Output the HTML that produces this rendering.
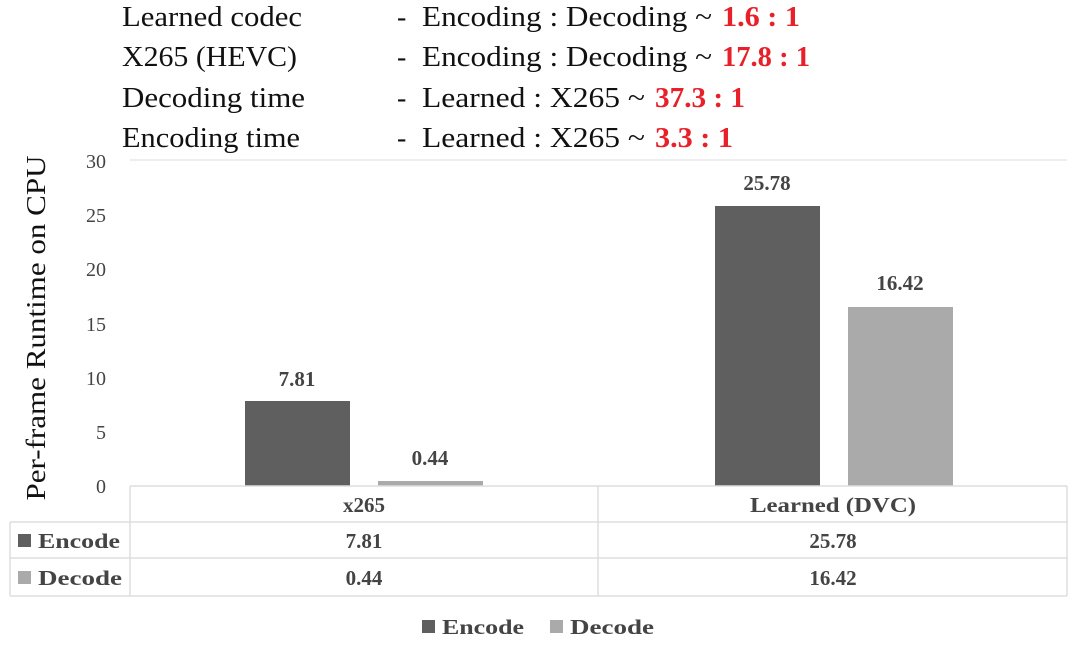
<!DOCTYPE html>
<html><head><style>body{margin:0;background:#fff}</style></head><body>
<svg width="1080" height="648" xmlns="http://www.w3.org/2000/svg" font-family="Liberation Serif, serif">
<g font-size="28" fill="#111" lengthAdjust="spacingAndGlyphs">
<text x="122" y="26" textLength="180" lengthAdjust="spacingAndGlyphs">Learned codec</text>
<text x="122" y="66" textLength="175" lengthAdjust="spacingAndGlyphs">X265 (HEVC)</text>
<text x="122" y="107" textLength="183" lengthAdjust="spacingAndGlyphs">Decoding time</text>
<text x="122" y="147" textLength="178" lengthAdjust="spacingAndGlyphs">Encoding time</text>
<text x="397" y="26">-</text><text x="397" y="66">-</text><text x="397" y="107">-</text><text x="397" y="147">-</text>
<text x="422" y="26" textLength="290" lengthAdjust="spacingAndGlyphs">Encoding : Decoding ~</text>
<text x="722" y="26" fill="#e8202a" font-weight="bold" textLength="78" lengthAdjust="spacingAndGlyphs">1.6 : 1</text>
<text x="422" y="66" textLength="290" lengthAdjust="spacingAndGlyphs">Encoding : Decoding ~</text>
<text x="722" y="66" fill="#e8202a" font-weight="bold" textLength="88" lengthAdjust="spacingAndGlyphs">17.8 : 1</text>
<text x="422" y="107" textLength="223" lengthAdjust="spacingAndGlyphs">Learned : X265 ~</text>
<text x="655" y="107" fill="#e8202a" font-weight="bold" textLength="90" lengthAdjust="spacingAndGlyphs">37.3 : 1</text>
<text x="422" y="147" textLength="223" lengthAdjust="spacingAndGlyphs">Learned : X265 ~</text>
<text x="655" y="147" fill="#e8202a" font-weight="bold" textLength="78" lengthAdjust="spacingAndGlyphs">3.3 : 1</text>
</g>
<line x1="130" y1="160" x2="1067" y2="160" stroke="#ddd"/>
<g font-size="20" fill="#444" text-anchor="end">
<text x="106" y="168">30</text><text x="106" y="222">25</text><text x="106" y="276">20</text><text x="106" y="331">15</text><text x="106" y="385">10</text><text x="106" y="439">5</text><text x="106" y="493">0</text>
</g>
<text transform="translate(45,328) rotate(-90)" text-anchor="middle" font-size="27" fill="#111" textLength="345" lengthAdjust="spacingAndGlyphs">Per-frame Runtime on CPU</text>
<rect x="245" y="401" width="105" height="85" fill="#5f5f5f"/>
<rect x="378" y="481" width="105" height="5" fill="#aaa"/>
<rect x="715" y="206" width="105" height="280" fill="#5f5f5f"/>
<rect x="848" y="307" width="105" height="179" fill="#aaa"/>
<g font-size="21" fill="#444" font-weight="bold" text-anchor="middle">
<text x="297" y="386">7.81</text><text x="430" y="465">0.44</text>
<text x="767" y="190">25.78</text><text x="900" y="290">16.42</text>
</g>
<g stroke="#ddd" stroke-width="1.5" fill="none">
<line x1="130" y1="486" x2="1067" y2="486"/>
<line x1="10" y1="522" x2="1067" y2="522"/>
<line x1="10" y1="558" x2="1067" y2="558"/>
<line x1="10" y1="596" x2="1067" y2="596"/>
<line x1="130" y1="486" x2="130" y2="596"/>
<line x1="598" y1="486" x2="598" y2="596"/>
<line x1="1067" y1="486" x2="1067" y2="596"/>
<line x1="10" y1="522" x2="10" y2="596"/>
</g>
<g font-size="21" fill="#444" font-weight="bold" text-anchor="middle">
<text x="364" y="512">x265</text><text x="833" y="512" textLength="166" lengthAdjust="spacingAndGlyphs">Learned (DVC)</text>
<text x="364" y="548">7.81</text><text x="833" y="548">25.78</text>
<text x="364" y="585">0.44</text><text x="833" y="585">16.42</text>
</g>
<g font-size="21" fill="#444" font-weight="bold">
<rect x="18" y="534" width="13" height="13" fill="#5f5f5f"/><text x="38" y="548" textLength="82" lengthAdjust="spacingAndGlyphs">Encode</text>
<rect x="18" y="571" width="13" height="13" fill="#aaa"/><text x="38" y="585" textLength="84" lengthAdjust="spacingAndGlyphs">Decode</text>
<rect x="422" y="620" width="13" height="13" fill="#5f5f5f"/><text x="442" y="634" textLength="82" lengthAdjust="spacingAndGlyphs">Encode</text>
<rect x="550" y="620" width="13" height="13" fill="#aaa"/><text x="570" y="634" textLength="84" lengthAdjust="spacingAndGlyphs">Decode</text>
</g>
</svg>
</body></html>
